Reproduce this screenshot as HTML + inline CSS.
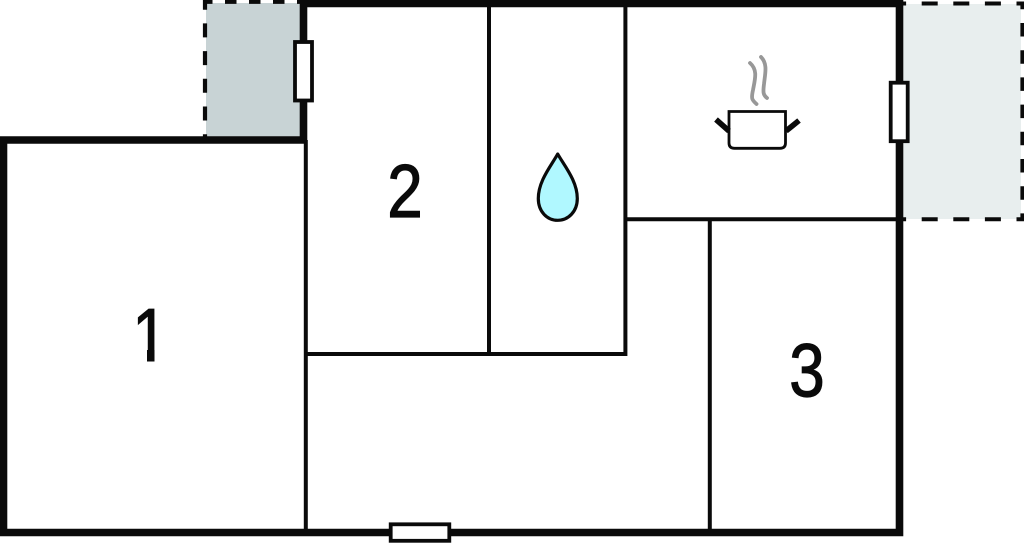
<!DOCTYPE html>
<html><head><meta charset="utf-8"><style>
html,body{margin:0;padding:0;background:#fff;width:1024px;height:543px;overflow:hidden}
svg{display:block}
text{font-family:"Liberation Sans",sans-serif;font-size:75px;fill:#0a0a0a;stroke:#0a0a0a;stroke-width:1.2px;text-anchor:middle}
</style></head><body>
<svg width="1024" height="543" viewBox="0 0 1024 543" xmlns="http://www.w3.org/2000/svg">
<rect x="206" y="3" width="95" height="134" fill="#c8d3d5"/>
<rect x="903" y="4" width="118" height="215" fill="#e8eeee"/>
<g fill="none" stroke="#0a0a0a">
<!-- dashed balconies -->
<path d="M205 0V137" stroke-width="4.200" stroke-dasharray="14 13.7" stroke-dashoffset="4.3"/>
<path d="M205 1.800H301" stroke-width="4.200" stroke-dasharray="11.5 12.5" stroke-dashoffset="-20"/>
<path d="M903 3.500H1024" stroke-width="4" stroke-dasharray="16 15.6" stroke-dashoffset="-18.7"/>
<path d="M903 219.300H1024" stroke-width="4" stroke-dasharray="16 15.6" stroke-dashoffset="-18.7"/>
<path d="M1022.300 3V220" stroke-width="3.800" stroke-dasharray="13.5 13.7" stroke-dashoffset="-20"/>
<!-- inner walls -->
<g stroke-width="4">
<path d="M305.800 140V532"/>
<path d="M489 4V354"/>
<path d="M625.400 4V356"/>
<path d="M305.800 354H627"/>
<path d="M625.400 219.300H900"/>
<path d="M709.800 219.300V532"/>
</g>
<!-- outer walls -->
<path d="M3.500 532.500V140H303.500V3.500H899.500V532.500Z" stroke-width="7.600"/>
</g>
<!-- windows -->
<g fill="#fff" stroke="#0a0a0a" stroke-width="3.800">
<rect x="295" y="42" width="17" height="58.500"/>
<rect x="890.700" y="82.700" width="17" height="58.500"/>
<rect x="390.700" y="524.300" width="58.600" height="16.500"/>
</g>
<!-- water drop -->
<path d="M557.700 154C551 166 538.300 181 538.300 198.500C538.300 211.500 547 220.300 557.700 220.300C568.400 220.300 577.300 211.500 577.300 198.500C577.300 181 564.500 166 557.700 154Z" fill="#b0f8ff" stroke="#0a0a0a" stroke-width="3.200" stroke-linejoin="round"/>
<!-- pot -->
<path d="M729 111.500H785.500V143Q785.500 148.300 780 148.300H734.500Q729 148.300 729 143Z" fill="#fff" stroke="#0a0a0a" stroke-width="2.800"/>
<path d="M716 119.500L729 131M799 120.500L786 131" fill="none" stroke="#0a0a0a" stroke-width="5.600"/>
<path d="M750 63C758 70 755 79 753 90C751 99 752 100 756.500 104M761 57C768 64 765 74 764 84C763 92 763 95 767 98" fill="none" stroke="#989898" stroke-width="3.800" stroke-linecap="round"/>
<text transform="translate(405 217) scale(.85 1)">2</text>
<text transform="translate(150 361) scale(.85 1)">1</text>
<rect x="128" y="352" width="45" height="12" fill="#fff"/>
<rect x="147" y="350" width="7.500" height="11.500" fill="#0a0a0a"/>
<text transform="translate(807 396.500) scale(.85 1)">3</text>
</svg>
</body></html>
